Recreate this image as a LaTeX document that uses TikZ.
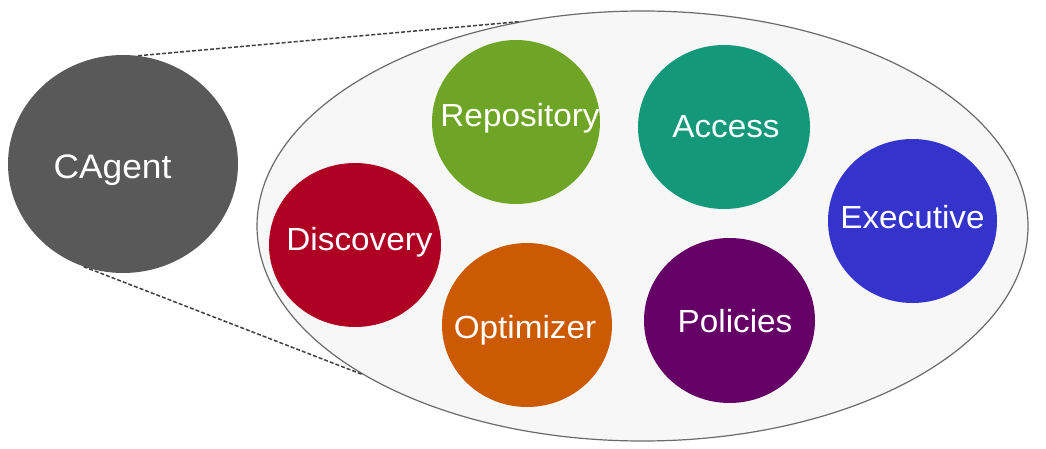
\documentclass[tikz,border=0pt]{standalone}
\usepackage{fontspec}
\setmainfont{Liberation Sans}[FakeStretch=1.04]
\usetikzlibrary{shapes.geometric}
\definecolor{cagentgray}{HTML}{595959}
\definecolor{repgreen}{HTML}{6FA526}
\definecolor{accteal}{HTML}{13987A}
\definecolor{discred}{HTML}{AF0023}
\definecolor{optorange}{HTML}{CC5A02}
\definecolor{polpurple}{HTML}{650066}
\definecolor{exeblue}{HTML}{3434CC}
\definecolor{bigfill}{HTML}{F7F7F7}
\definecolor{bigline}{HTML}{6A6A6A}
\begin{document}
\begin{tikzpicture}[x=1pt,y=1pt,
  blob/.style={ellipse, draw=none, inner sep=0pt, minimum width=170pt, minimum height=164pt},
  lbl/.style={text=white, anchor=base, inner sep=0pt, font=\fontsize{32}{38}\selectfont},
  dashline/.style={draw=black!75, line width=1.5pt, dash pattern=on 4pt off 2pt}]
\useasboundingbox (0,0) rectangle (1046,448);
% big container ellipse
\node[ellipse, draw=bigline, fill=bigfill, line width=1.2pt, inner sep=0pt,
      minimum width=771pt, minimum height=430pt] (big) at (642.5,222) {};
% CAgent
\node[blob, fill=cagentgray, minimum width=230pt, minimum height=218pt] (cag) at (123,284) {};
\node[lbl, font=\fontsize{34}{40}\selectfont] (cagT) at (112.5,270) {CAgent};
% dashed zoom lines
\draw[dashline] (cag.82) -- (big.121);
\draw[dashline] (cag.-111) -- (big.208.8);
% inner circles
\node[blob, fill=repgreen, minimum width=168pt] (rep) at (516,326) {};
\node[lbl] (repT) at (520,321) {Repository};
\node[blob, fill=accteal, minimum width=172pt] (acc) at (724,321) {};
\node[lbl] (accT) at (726,310) {Access};
\node[blob, fill=discred, minimum width=172pt] (dis) at (355,203) {};
\node[lbl] (disT) at (359.5,198) {Discovery};
\node[blob, fill=optorange] (opt) at (527,123) {};
\node[lbl] (optT) at (525,110) {Optimizer};
\node[blob, fill=polpurple, minimum width=171pt, minimum height=165pt] (pol) at (729.5,127.5) {};
\node[lbl] (polT) at (735,116) {Policies};
\node[blob, fill=exeblue, minimum width=169pt] (exe) at (912.5,227) {};
\node[lbl] (exeT) at (912.5,220) {Executive};
\end{tikzpicture}
\end{document}
